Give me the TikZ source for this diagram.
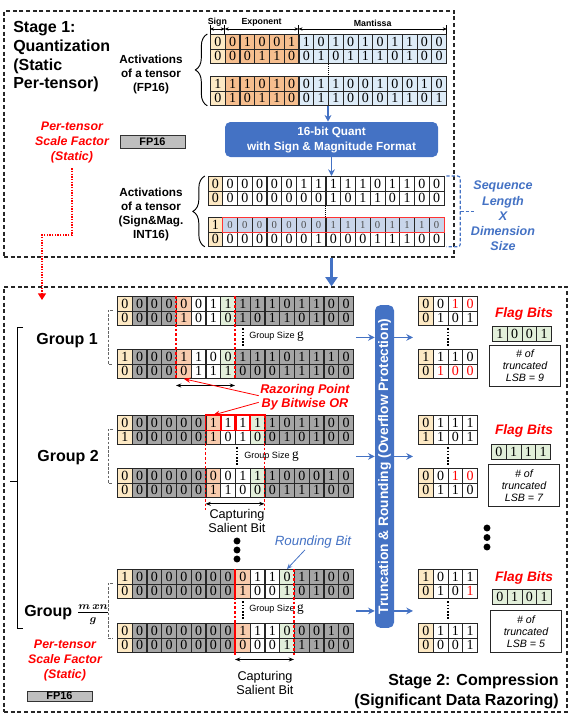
\documentclass[tikz,border=0pt]{standalone}
\usepackage{fontspec}
\setmainfont{Liberation Sans}
\newfontfamily\bitfont{Liberation Serif}
\usetikzlibrary{arrows.meta,calc,positioning,decorations.pathreplacing}

\definecolor{signc}{HTML}{FDE9C4}
\definecolor{expc}{HTML}{F6BE8E}
\definecolor{mantc}{HTML}{DDEBF7}
\definecolor{grayc}{HTML}{A5A5A5}
\definecolor{razc}{HTML}{F8CBAD}
\definecolor{grnc}{HTML}{E2EFDA}
\definecolor{hlc}{HTML}{C9D5EA}
\definecolor{boxblue}{HTML}{4472C4}

\newcommand{\rb}[1]{\textcolor{red}{#1}}
\newcommand{\fs}[2]{\fontsize{#1}{#2}\selectfont}
\newcommand{\gsym}{{\bitfont\fs{10}{10}g}}

% one row of cells: name, x, y, style of first cell, style of the rest, bits
\newcommand{\cellrow}[6]{%
  \foreach \bv [count=\i from 0] in {#6}{%
    \ifnum\i=0 \def\cellsty{#4}\else\def\cellsty{#5}\fi
    \node[\cellsty] (#1-\i) at ({#2+\i*14.75},#3) {\bv};}}
% FP16 row: sign, exponent, mantissa
\newcommand{\fprow}[4]{%
  \foreach \bv [count=\i from 0] in {#4}{%
    \ifnum\i=0 \def\cellsty{sgn}\else\ifnum\i<6 \def\cellsty{expo}\else\def\cellsty{mant}\fi\fi
    \node[\cellsty] (#1-\i) at ({#2+\i*14.75},#3) {\bv};}}
% stage 2 row, #4 = first column of the kept group
\newcommand{\grprow}[5]{%
  \foreach \bv [count=\i from 0] in {#5}{%
    \ifnum\i=0 \def\cellsty{sgn}%
    \else\ifnum\i<#4\relax \def\cellsty{gry}%
    \else\ifnum\i=#4\relax \def\cellsty{raz}%
    \else\ifnum\i<\numexpr#4+3\relax \def\cellsty{wht}%
    \else\ifnum\i=\numexpr#4+3\relax \def\cellsty{grn}%
    \else\def\cellsty{gry}\fi\fi\fi\fi\fi
    \node[\cellsty] (#1-\i) at ({#2+\i*14.75},#3) {\bv};}}

\begin{document}
\begin{tikzpicture}[x=0.75pt,y=-0.75pt,
  bit/.style={draw=black!85,line width=0.6pt,anchor=north west,inner sep=0pt,
    minimum width=11.06pt,minimum height=10.88pt,font=\bitfont\fs{10.5}{10.5}},
  sgn/.style={bit,fill=signc}, expo/.style={bit,fill=expc}, mant/.style={bit,fill=mantc},
  gry/.style={bit,fill=grayc}, raz/.style={bit,fill=razc}, wht/.style={bit,fill=white},
  grn/.style={bit,fill=grnc}, hl/.style={bit,fill=hlc,text=black!70,font=\bitfont\fs{8}{8}},
  stagebox/.style={draw=black!85,dash pattern=on 3pt off 2pt,line width=0.9pt,inner sep=0pt},
  stagetitle/.style={font=\bfseries\fs{12}{14},inner sep=0pt},
  lbl/.style={font=\bfseries\fs{8.8}{10.5},align=center},
  tinylbl/.style={font=\bfseries\fs{6.6}{7},inner sep=1pt},
  redlbl/.style={text=red,font=\bfseries\itshape\fs{9.3}{11.25},align=center},
  bluelbl/.style={text=boxblue,font=\bfseries\itshape\fs{9.4}{11.4},align=center},
  bluebox/.style={fill=boxblue,rounded corners=4pt,text=white,font=\bfseries\fs{8.8}{11.25},align=center},
  fpbox/.style={draw=black!80,fill=black!25,line width=0.7pt,minimum width=48.75pt,
    minimum height=9.75pt,inner sep=0pt,font=\bfseries\fs{8.2}{8.2}},
  grplbl/.style={font=\bfseries\fs{12}{14}},
  gsz/.style={font=\fs{6.8}{8},inner sep=0pt,anchor=west},
  captlbl/.style={font=\fs{9.5}{10.5},align=center},
  flaglbl/.style={text=red,font=\bfseries\itshape\fs{10.3}{12}},
  lsbbox/.style={draw=black!85,line width=0.7pt,minimum width=53pt,minimum height=31pt,
    font=\itshape\fs{8}{9},align=center,inner sep=0pt},
  brc/.style={decorate,decoration={brace,amplitude=9pt},line width=0.7pt},
  dim/.style={line width=0.5pt,{Stealth[length=3pt,width=2.5pt]}-{Stealth[length=3pt,width=2.5pt]}},
  span/.style={line width=0.6pt,{Stealth[length=4pt,width=3pt]}-{Stealth[length=4pt,width=3pt]}},
  barrow/.style={draw=boxblue,line width=1.2pt,-{Stealth[length=5pt,width=5pt]}},
  bigarrow/.style={draw=boxblue,line width=2.4pt,-{Triangle[length=7pt,width=9pt]}},
  razline/.style={draw=red,dash pattern=on 2pt off 1.5pt,line width=0.8pt},
  redarr/.style={draw=red,line width=0.6pt,-{Stealth[length=5pt,width=4pt]}},
  scalelink/.style={draw=red,densely dotted,line width=1pt,-{Triangle[length=5pt,width=6pt]}},
  seqbr/.style={draw=boxblue,dash pattern=on 2.5pt off 1.5pt,line width=0.9pt,rounded corners=2pt},
  grpbr/.style={draw=black!60,dash pattern=on 2pt off 1.2pt,line width=0.6pt},
  gdots/.style={line width=1.5pt,dash pattern=on 1.2pt off 1.2pt,shorten <=2pt,shorten >=2pt}]
\useasboundingbox (0,0) rectangle (573,718);

% Stage 1
\node[stagebox,minimum width=337.5pt,minimum height=184.5pt] (stageA) at (229,134) {};
\node[stagetitle,anchor=west,align=left] (titleA) at (13,57) {Stage 1:\\Quantization\\(Static\\Per-tensor)};
\node[lbl] (actA) at (151,74) {Activations\\of a tensor\\(FP16)};
\node[redlbl] (sfA) at (72,143) {Per-tensor\\Scale Factor\\(Static)};
\node[fpbox] (fpsA) at (152.5,142) {FP16};

\fprow{fpA}{210}{34}{0,0,1,0,0,1,1,0,1,0,1,0,1,1,0,0}
\fprow{fpB}{210}{48.5}{0,0,0,1,1,0,0,1,0,1,1,1,0,1,0,0}
\fprow{fpC}{210}{76}{1,1,1,0,1,0,0,1,1,0,0,1,0,0,1,0}
\fprow{fpD}{210}{90.5}{0,1,0,1,1,0,0,1,1,0,0,0,1,1,0,1}
\draw[densely dotted,line width=0.5pt] (fpB-8.south west) -- (fpC-8.north west);
\draw[brc] ([xshift=-2pt]fpD-0.south west) -- ([xshift=-2pt]fpA-0.north west);

\foreach \c in {0,1,6}
  \draw[line width=0.5pt] (fpA-\c.north west) -- ++(0,-9);
\draw[line width=0.5pt] (fpA-15.north east) -- ++(0,-9);
\draw[dim] ([yshift=3.75pt]fpA-0.north west) -- ([yshift=3.75pt]fpA-1.north west)
  node[midway,above=0.5pt,tinylbl] {Sign};
\draw[dim] ([yshift=3.75pt]fpA-1.north west) -- ([yshift=3.75pt]fpA-6.north west)
  node[midway,above=0.5pt,tinylbl] {Exponent};
\draw[dim] ([yshift=3.75pt]fpA-6.north west) -- ([yshift=3.75pt]fpA-15.north east)
  node[midway,above=0.5pt,tinylbl] {Mantissa};

\node[bluebox,minimum width=159.75pt,minimum height=26.25pt] (quant) at (331.5,139.5)
  {16-bit Quant\\with Sign \& Magnitude Format};
\draw[barrow] (fpD-8.south west) -- (fpD-8.south west |- quant.north);

\node[lbl] (actB) at (151,214) {Activations\\of a tensor\\(Sign\&Mag.\\INT16)};
\cellrow{smA}{207.5}{176}{sgn}{wht}{0,0,0,0,0,0,1,1,1,1,1,0,1,1,0,0}
\cellrow{smB}{207.5}{190.5}{sgn}{wht}{0,0,0,0,0,0,0,0,1,0,1,1,0,1,0,0}
\cellrow{smC}{207.5}{217}{sgn}{hl}{1,0,0,0,0,0,0,0,1,1,1,0,1,1,1,0}
\cellrow{smD}{207.5}{231.5}{sgn}{wht}{0,0,0,0,0,0,0,1,0,0,0,1,1,1,0,0}
\draw[red!80,line width=0.5pt] (smC-1.north west) rectangle (smC-15.south east);
\draw[densely dotted,line width=0.5pt] (smB-8.south west) -- (smC-8.north west);
\draw[brc] ([xshift=-2pt]smD-0.south west) -- ([xshift=-2pt]smA-0.north west);
\draw[barrow] (quant.south) -- (quant.south |- smA-0.north);

\draw[seqbr] ([xshift=1.5pt]smA-15.north east) -| ([xshift=12pt]smD-15.south east)
  -- ([xshift=1.5pt]smD-15.south east);
\draw[seqbr] ($(smB-15.south east)!.5!(smC-15.north east)+(16,0)$) -- ++(14,0);
\node[bluelbl] (seq) at (503,216) {Sequence\\Length\\X\\Dimension\\Size};

% Stage 2
\node[stagebox,minimum width=422.25pt,minimum height=318.75pt] (stageB) at (285.5,499.5) {};
\draw[bigarrow] (stageA.south -| quant.south) -- (stageB.north -| quant.south);
\coordinate (bendA) at (42,235);
\coordinate (grpTop) at (42,300);
\draw[scalelink] (sfA.south) |- (bendA) -- (grpTop);

\grprow{gA1}{117}{296}{4}{0,0,0,0,0,0,1,1,1,1,1,0,1,1,0,0}
\grprow{gA2}{117}{310.5}{4}{0,0,0,0,1,0,1,0,1,0,1,1,0,1,0,0}
\grprow{gA3}{117}{349}{4}{1,0,0,0,1,1,0,0,1,1,1,0,1,1,1,0}
\grprow{gA4}{117}{363.5}{4}{0,0,0,0,0,1,1,1,0,0,0,1,1,1,0,0}
\grprow{gB1}{117}{415}{6}{0,0,0,0,0,0,1,1,1,1,1,0,1,1,0,0}
\grprow{gB2}{117}{429.5}{6}{1,0,0,0,0,0,1,0,1,0,0,1,0,1,0,0}
\grprow{gB3}{117}{468}{6}{0,0,0,0,0,0,0,0,1,1,1,0,0,0,1,0}
\grprow{gB4}{117}{482.5}{6}{0,0,0,0,0,0,1,1,0,0,0,1,1,1,0,0}
\grprow{gC1}{117}{569}{8}{1,0,0,0,0,0,0,0,0,1,1,0,1,1,0,0}
\grprow{gC2}{117}{583.5}{8}{0,0,0,0,0,0,0,0,1,0,0,1,0,1,0,0}
\grprow{gC3}{117}{623}{8}{0,0,0,0,0,0,0,0,1,1,1,0,0,0,1,0}
\grprow{gC4}{117}{637.5}{8}{0,0,0,0,0,0,0,0,0,0,0,1,1,1,0,0}
\foreach \i in {6,...,9}
  \draw[red,line width=1.1pt] (gB1-\i.north west) rectangle (gB1-\i.south east);

\foreach \g in {gA,gB,gC}
  \draw[grpbr] ([xshift=-3pt]\g2-0.north west) -- ([xshift=-6.75pt]\g2-0.north west)
    -- ([xshift=-6.75pt]\g3-0.south west) -- ([xshift=-3pt]\g3-0.south west);
\draw[line width=0.7pt] (23,327) -- (17,327) -- (17,628) -- (23,628);
\draw[line width=0.7pt] (17,481) -- (10,481);
\node[grplbl] (grpA) at (67,341) {Group 1};
\node[grplbl] (grpB) at (68,458) {Group 2};
\node[grplbl,anchor=west,inner sep=0pt] (grpC) at (24,615) {Group {\boldmath$\frac{m\,xn}{g}$}};
\node[redlbl] (sfB) at (65,661) {Per-tensor\\Scale Factor\\(Static)};
\node[fpbox,minimum height=7.5pt] (fpsB) at (59.5,696) {FP16};

\draw[gdots] (gA2-8.south) -- (gA3-8.north);
\node[gsz] (gsA) at (249,337) {Group Size \gsym};
\draw[gdots] ([xshift=1.5pt]gB2-8.south west) -- ([xshift=1.5pt]gB3-8.north west);
\node[gsz] (gsB) at (244,457) {Group Size \gsym};
\draw[gdots] (gC2-8.south) -- (gC3-8.north);
\node[gsz] (gsC) at (249,610) {Group Size \gsym};

\draw[razline] (gA1-4.north west) -- (gA4-4.south west);
\draw[razline] (gA1-8.north west) -- (gA4-8.south west);
\draw[span] ([yshift=-5pt]gA4-4.south west) -- ([yshift=-5pt]gA4-8.south west);
\draw[razline] (gB1-6.north west) -- ([yshift=-9pt]gB4-6.south west);
\draw[razline] (gB1-10.north west) -- ([yshift=-9pt]gB4-10.south west);
\draw[span] ([yshift=-4.5pt]gB4-6.south west) -- ([yshift=-4.5pt]gB4-10.south west);
\draw[red,line width=0.9pt] (gC1-8.north west) -- (gC2-8.south west);
\draw[red,line width=0.9pt] (gC3-8.north west) -- (gC4-8.south west);
\draw[razline] (gC1-8.north west) -- ([yshift=-2pt]gC4-8.south west);
\draw[razline] (gC1-12.north west) -- ([yshift=-2pt]gC4-12.south west);
\draw[span] ([yshift=-5pt]gC4-8.south west) -- ([yshift=-5pt]gC4-12.south west);

\node[text=red,font=\bfseries\itshape\fs{9.5}{10.5},align=center,inner sep=1pt] (razor)
  at (305,397) {Razoring Point\\By Bitwise OR};
\draw[redarr] ([yshift=1pt]razor.west) -- (gA4-4.south);
\draw[redarr] ([yshift=-4pt]razor.west) -- (gB1-6.north);
\node[captlbl] (capB) at (237,521) {Capturing\\Salient Bit};
\node[captlbl] (capC) at (265,683) {Capturing\\Salient Bit};
\foreach \k in {0,1,2}
  \fill (237,{541+9*\k}) circle (2.6pt);
\node[text=boxblue,font=\itshape\fs{10}{12},inner sep=1pt] (rnd) at (313,542) {Rounding Bit};
\draw[draw=boxblue,line width=0.6pt,-{Stealth[length=4pt,width=3.5pt]}] ([xshift=-6pt]rnd.south) -- (gC1-11.north);

\node[bluebox,rotate=90,minimum width=242pt,minimum height=14.25pt,inner sep=0pt,
  font=\bfseries\fs{10.3}{12}] (trunc) at (384.5,466.5) {Truncation \& Rounding (Overflow Protection)};

\cellrow{oA1}{418}{296}{sgn}{wht}{0,0,\rb1,\rb0}
\cellrow{oA2}{418}{310.5}{sgn}{wht}{0,1,0,1}
\cellrow{oA3}{418}{349}{sgn}{wht}{1,1,1,0}
\cellrow{oA4}{418}{363.5}{sgn}{wht}{0,\rb1,\rb0,\rb0}
\cellrow{oB1}{418}{415}{sgn}{wht}{0,1,1,1}
\cellrow{oB2}{418}{429.5}{sgn}{wht}{1,1,0,1}
\cellrow{oB3}{418}{468}{sgn}{wht}{0,0,\rb1,\rb0}
\cellrow{oB4}{418}{482.5}{sgn}{wht}{0,1,1,0}
\cellrow{oC1}{418}{569}{sgn}{wht}{1,0,1,1}
\cellrow{oC2}{418}{583.5}{sgn}{wht}{0,1,0,\rb1}
\cellrow{oC3}{418}{623}{sgn}{wht}{0,1,1,1}
\cellrow{oC4}{418}{637.5}{sgn}{wht}{0,0,0,1}

\foreach \g/\o in {gA/oA,gB/oB,gC/oC}{
  \coordinate (\g-in) at ($(\g2-15.south east)!.5!(\g3-15.north east)+(2,0)$);
  \draw[barrow] (\g-in) -- (\g-in -| trunc.north);
  \draw[barrow] (\g-in -| trunc.south) -- ($(\o2-0.south west)!.5!(\o3-0.north west)+(-5,0)$);
  \draw[gdots] (\o2-2.south west) -- (\o3-2.north west);
}

\node[flaglbl] (flagA) at (524,314) {Flag Bits};
\cellrow{flA}{492}{326}{grn}{grn}{1,0,0,1}
\node[lsbbox] (lsbA) at (525,366) {\# of\\truncated\\LSB = 9};
\node[flaglbl] (flagB) at (524,431) {Flag Bits};
\cellrow{flB}{491}{444}{grn}{grn}{0,1,1,1}
\node[lsbbox] (lsbB) at (524,485.5) {\# of\\truncated\\LSB = 7};
\foreach \k in {0,1,2}
  \fill (487,{528+9.5*\k}) circle (2.6pt);
\node[flaglbl] (flagC) at (524,578) {Flag Bits};
\cellrow{flC}{492}{589}{grn}{grn}{0,1,0,1}
\node[lsbbox] (lsbC) at (526,631.5) {\# of\\truncated\\LSB = 5};

\node[stagetitle,anchor=east,align=right,font=\bfseries\fs{12}{15}] (titleB) at (559,691)
  {Stage 2: Compression\\(Significant Data Razoring)};
\end{tikzpicture}
\end{document}
